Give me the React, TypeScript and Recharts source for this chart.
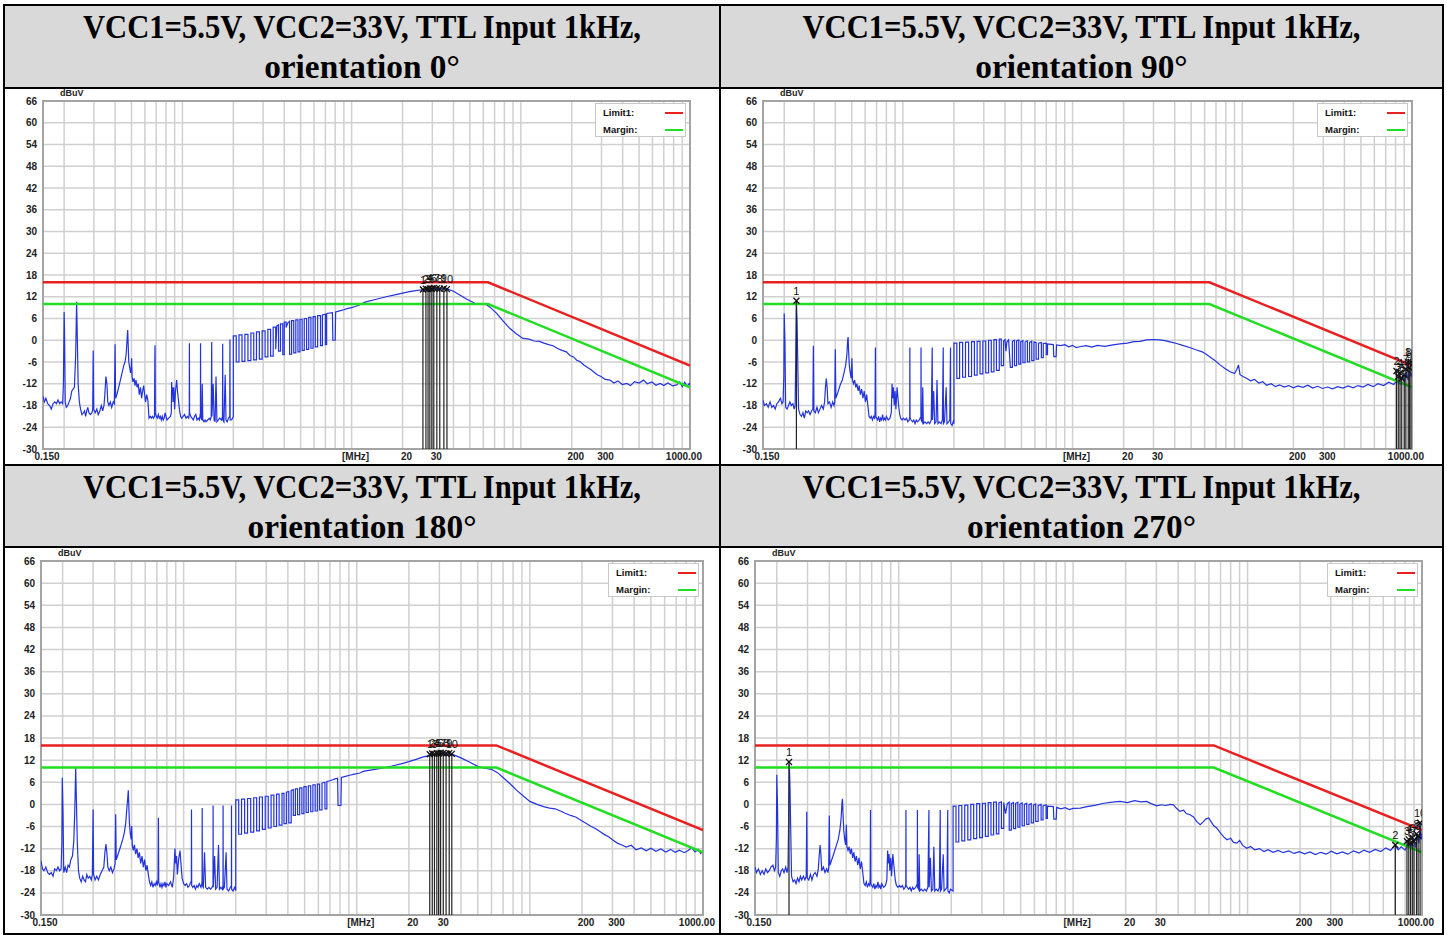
import React from "react";
import {
  CartesianGrid,
  ComposedChart,
  Line,
  ReferenceArea,
  ReferenceLine,
  Scatter,
  XAxis,
  YAxis,
} from "recharts";

type Pt = [number, number];

const Y_TICKS = [-30, -24, -18, -12, -6, 0, 6, 12, 18, 24, 30, 36, 42, 48, 54, 60, 66];
const X_TICKS = [0.15, 10, 20, 30, 200, 300, 1000];
const GRID_FREQS = [
  0.2, 0.3, 0.4, 0.5, 0.6, 0.7, 0.8, 0.9, 1, 2, 3, 4, 5, 6, 7, 8, 9, 10, 20, 30, 40, 50, 60, 70, 80, 90,
  100, 200, 300, 400, 500, 600, 700, 800, 900,
];

const LIMIT_FREQS = [0.15, 64, 1000];
const LIMIT1 = [16, 16, -7];
const MARGIN = [10, 10, -13];

const TITLES = [
  "orientation 0°",
  "orientation 90°",
  "orientation 180°",
  "orientation 270°",
];
const TITLE_LINE = "VCC1=5.5V, VCC2=33V, TTL Input 1kHz,";

// measured trace, orientation 0°
const TRACE_0: Pt[] = [
  [0.15, -15.5], [0.153, -17], [0.156, -16], [0.16, -17.5], [0.164, -18], [0.168, -19], [0.172, -17.5],
  [0.176, -17], [0.18, -17.5], [0.184, -16.5], [0.188, -17.5], [0.192, -17],
  [0.196, -17.5], [0.198, -12], [0.2, 7.8], [0.201, 3], [0.203, -17], [0.206, -18.5], [0.21, -18],
  [0.214, -17], [0.218, -16], [0.222, -14], [0.226, -13.5],
  [0.23, -13], [0.234, -4], [0.237, 10.6], [0.239, 2], [0.242, -12], [0.246, -17], [0.25, -19],
  [0.255, -20.5], [0.26, -20], [0.264, -19.5], [0.268, -21], [0.272, -19.5], [0.276, -18.5], [0.28, -20],
  [0.286, -20.5], [0.292, -20],
  [0.295, -19], [0.297, -2.8], [0.299, -19], [0.305, -20], [0.312, -19], [0.318, -20.5], [0.325, -19.5],
  [0.332, -18], [0.338, -19.5], [0.344, -18],
  [0.348, -15], [0.353, -10], [0.358, -12], [0.362, -17], [0.368, -18], [0.375, -17], [0.382, -18.5], [0.39, -17],
  [0.396, -17.5], [0.4, -1.1], [0.403, -16], [0.41, -15], [0.42, -13], [0.43, -11], [0.44, -9], [0.45, -7],
  [0.458, -6], [0.465, -4], [0.472, 1], [0.475, 2.8], [0.478, -1], [0.482, -6], [0.488, -7.5], [0.494, -9],
  [0.498, -8], [0.501, -5], [0.504, -10], [0.51, -11.5], [0.518, -10.5], [0.525, -12.5], [0.532, -11],
  [0.54, -13], [0.548, -12], [0.556, -15], [0.565, -13], [0.574, -16], [0.582, -14], [0.59, -12.5],
  [0.598, -15], [0.606, -17], [0.615, -15], [0.625, -16.5], [0.635, -21.5], [0.645, -21], [0.655, -21.5],
  [0.665, -21], [0.675, -21.5], [0.684, -21],
  [0.687, -5], [0.689, -1.4], [0.692, -20], [0.7, -21], [0.71, -21.5], [0.72, -20.5], [0.73, -21.5],
  [0.74, -21], [0.75, -22], [0.76, -21], [0.77, -22], [0.78, -21.5], [0.79, -20], [0.8, -21], [0.81, -22],
  [0.83, -21.5], [0.85, -21],
  [0.86, -20], [0.864, -11.5], [0.868, -15], [0.875, -13], [0.88, -17], [0.89, -13], [0.9, -19], [0.91, -14],
  [0.925, -11], [0.935, -14], [0.945, -16], [0.96, -19], [0.975, -21], [0.99, -21.5], [1.01, -21],
  [1.03, -20.5], [1.05, -21.5], [1.07, -21], [1.09, -21.5],
  [1.098, -20], [1.1, -0.8], [1.103, -20], [1.12, -21], [1.14, -21.5], [1.16, -22], [1.18, -21],
  [1.2, -20.5], [1.22, -22], [1.24, -21.5], [1.26, -22],
  [1.278, -20], [1.28, -0.8], [1.283, -21], [1.3, -22], [1.31, -12], [1.32, -22], [1.34, -22.5],
  [1.36, -22], [1.38, -22.5], [1.41, -22], [1.44, -21.5], [1.46, -22], [1.48, -21],
  [1.49, -0.5], [1.495, -21], [1.52, -12], [1.54, -22], [1.56, -22.5], [1.58, -10], [1.6, -22.5],
  [1.63, -22], [1.66, -21.5], [1.7, -22],
  [1.725, -21], [1.73, -1], [1.735, -22], [1.76, -22.5], [1.79, -9.5], [1.81, -22], [1.84, -22.5], [1.87, -21.5],
  [1.905, -21], [1.91, 0.2], [1.915, -22], [1.95, -22], [1.98, -21.5], [2.0, -21],
  [2.0, 1.2], [2.08, 1.2], [2.08, -6], [2.16, -6], [2.16, 1.5], [2.25, 1.5], [2.25, -5.8], [2.34, -5.8],
  [2.34, 1.6], [2.44, 1.6], [2.44, -5.6], [2.54, -5.6], [2.54, 2], [2.64, 2], [2.64, -5.4], [2.74, -5.4],
  [2.74, 2.3], [2.85, 2.3], [2.85, -5.2], [2.96, -5.2], [2.96, 2.6], [3.08, 2.6], [3.08, -4.6], [3.2, -4.6],
  [3.2, 3], [3.32, 3], [3.32, -4.4], [3.44, -4.4], [3.44, 3.6], [3.56, 3.6], [3.56, -2.5], [3.62, 4],
  [3.7, 4.2], [3.7, -3], [3.8, -3], [3.8, 4.5], [3.92, 4.5], [3.92, -4], [4.0, -4], [4.0, 5], [4.1, 5],
  [4.1, 3.5], [4.2, 4.8], [4.3, 5.2], [4.3, -3.8], [4.42, -3.8], [4.42, 5.4], [4.55, 5.4], [4.55, -3.5],
  [4.68, -3.5], [4.68, 5.6], [4.82, 5.6], [4.82, -3.2], [4.95, -3.2], [4.95, 5.8], [5.1, 5.8], [5.1, -2.8],
  [5.25, -2.8], [5.25, 6], [5.42, 6], [5.42, -2.5], [5.58, -2.5], [5.58, 6.3], [5.75, 6.3], [5.75, -2.2],
  [5.92, -2.2], [5.92, 6.5], [6.1, 6.5], [6.1, -1.8], [6.3, -1.8], [6.3, 6.8], [6.55, 6.8], [6.55, -1.5],
  [6.72, -1.5], [6.72, 7], [7.0, 7.2], [7.0, -1.2], [7.12, -1.2], [7.12, 7.4], [7.7, 7.6], [7.75, 0],
  [8.0, 0], [8.05, 7.8], [8.5, 8.1], [9.0, 8.4], [9.5, 8.8], [10, 9.0], [10.5, 9.3], [11.2, 9.8],
  [12, 10.5], [14, 11.3], [16, 12], [18, 12.5], [20, 13], [22, 13.4], [24, 13.7], [26.6, 14], [29, 14.2],
  [31, 14.4], [33, 14.3], [36, 14.3], [40, 13.5], [43.6, 12.5], [48, 11.3], [53.5, 10.2], [58, 10],
  [62.8, 9.8], [67, 8.8], [72, 7.4], [78, 5.5], [86, 3.3], [94, 1.8], [103, 0.5], [112, 0.3], [120, -0.2],
  [129, -0.3], [137, -0.8], [146, -1.2], [155, -1.5], [165, -2.3], [175, -2.8], [186, -3.2], [195, -4.2],
  [205, -4.6], [214, -5.5], [224, -5.9], [236, -6.8], [248, -7.5], [258, -8], [269, -8.7], [283, -9.5],
  [298, -10], [315, -10.8], [337, -11], [355, -11.8], [375, -11.2], [398, -12.2], [423, -11.9],
  [445, -12.5], [470, -11.4], [500, -11.8], [531, -11], [560, -12], [595, -11.5], [630, -12.4],
  [666, -11.9], [700, -12.5], [740, -11.8], [790, -12.6], [835, -12.3], [870, -11.5], [900, -12.8],
  [930, -11.6], [960, -12.7], [990, -11.9], [1000, -12.4],
];

// measured trace, orientation 90°
const TRACE_90: Pt[] = [
  [0.15, -16.5], [0.153, -18], [0.157, -17.5], [0.161, -18.5], [0.165, -17], [0.169, -18.5], [0.173, -18],
  [0.177, -19], [0.181, -17.5], [0.185, -17], [0.19, -16], [0.194, -17.5],
  [0.197, -17], [0.199, -10], [0.2, 7.4], [0.202, 0], [0.204, -18.5], [0.208, -19], [0.212, -18],
  [0.216, -17], [0.22, -18], [0.225, -17.5], [0.229, -19],
  [0.232, -18], [0.234, -4], [0.236, 10.2], [0.238, 6], [0.24, -4], [0.243, -19], [0.248, -20.5],
  [0.253, -21], [0.258, -20], [0.263, -21.5], [0.268, -19.5], [0.273, -20], [0.278, -19.5], [0.284, -20.5],
  [0.29, -19.5],
  [0.295, -19], [0.297, -1.5], [0.299, -19.5], [0.305, -20], [0.312, -18.5], [0.318, -20], [0.325, -19],
  [0.332, -18], [0.34, -19], [0.346, -17],
  [0.35, -13], [0.354, -10.6], [0.358, -13], [0.362, -17.5], [0.37, -17], [0.378, -18.5], [0.386, -17], [0.393, -18],
  [0.397, -17], [0.4, -2.5], [0.403, -16], [0.41, -15], [0.42, -13.5], [0.43, -12], [0.44, -11], [0.45, -9],
  [0.46, -7], [0.468, -4], [0.473, 0], [0.476, 0.9], [0.479, -3], [0.484, -7], [0.49, -9], [0.496, -10.5],
  [0.501, -5], [0.505, -11], [0.512, -12], [0.52, -11], [0.528, -13], [0.536, -12], [0.545, -14],
  [0.553, -12.5], [0.562, -15], [0.572, -13.5], [0.582, -16], [0.592, -14], [0.602, -17], [0.612, -15],
  [0.622, -18], [0.632, -21], [0.642, -21.5], [0.652, -21], [0.662, -22], [0.672, -21], [0.682, -21.5],
  [0.686, -20], [0.689, -2], [0.692, -21], [0.7, -21.5], [0.71, -22], [0.72, -21], [0.73, -22.5],
  [0.74, -21.5], [0.75, -22], [0.76, -20.5], [0.77, -22], [0.78, -21.5], [0.79, -22], [0.8, -21],
  [0.82, -22], [0.84, -21.5], [0.855, -20],
  [0.864, -12], [0.87, -16], [0.88, -13], [0.89, -18], [0.9, -14], [0.91, -19], [0.925, -13], [0.94, -17],
  [0.955, -20], [0.97, -21.5], [0.99, -22], [1.01, -21.5], [1.03, -22], [1.05, -21.5], [1.07, -22.5], [1.09, -22],
  [1.098, -21], [1.1, -2], [1.103, -21.5], [1.12, -22], [1.14, -22.5], [1.16, -22], [1.18, -23], [1.2, -22],
  [1.22, -22.5], [1.25, -22],
  [1.278, -21], [1.28, -2], [1.283, -22], [1.3, -22.5], [1.31, -13], [1.32, -23], [1.35, -22.5], [1.38, -23],
  [1.41, -22.5], [1.44, -23], [1.47, -22],
  [1.49, -2], [1.495, -22], [1.52, -14], [1.54, -23], [1.57, -22.5], [1.59, -11], [1.61, -23], [1.64, -22.5],
  [1.68, -23], [1.71, -22],
  [1.73, -2], [1.735, -23], [1.76, -22.5], [1.8, -13], [1.82, -23], [1.86, -22.5], [1.89, -22],
  [1.91, -2], [1.915, -23], [1.95, -23.5], [1.98, -22.5], [2.0, -23],
  [2.0, -0.8], [2.08, -0.8], [2.08, -10.5], [2.16, -10.5], [2.16, -0.6], [2.25, -0.6], [2.25, -10.2],
  [2.34, -10.2], [2.34, -0.5], [2.44, -0.5], [2.44, -10], [2.54, -10], [2.54, -0.4], [2.64, -0.4],
  [2.64, -9.6], [2.74, -9.6], [2.74, -0.3], [2.85, -0.3], [2.85, -9.3], [2.96, -9.3], [2.96, -0.2],
  [3.08, -0.2], [3.08, -9], [3.2, -9], [3.2, 0], [3.32, 0], [3.32, -8.7], [3.44, -8.7], [3.44, 0.2],
  [3.56, 0.2], [3.56, -8.3], [3.7, -8.3], [3.7, 0.3], [3.8, 0.3], [3.8, -7], [3.92, -7], [3.92, -0.2],
  [4.0, 0.2], [4.05, -3], [4.1, -0.5], [4.2, 0.1], [4.3, -7.5], [4.42, -7.5], [4.42, -0.3], [4.55, 0],
  [4.55, -7], [4.68, -7], [4.68, -0.2], [4.82, 0.1], [4.82, -6.6], [4.95, -6.6], [4.95, -0.4], [5.1, -0.1],
  [5.1, -6.2], [5.25, -6.2], [5.25, -0.5], [5.42, -0.2], [5.42, -6], [5.58, -6], [5.58, -0.6], [5.75, -0.3],
  [5.75, -5.6], [5.92, -5.6], [5.92, -0.5], [6.1, -0.6], [6.1, -5.2], [6.3, -5.2], [6.3, -0.8], [6.55, -0.6],
  [6.55, -4.8], [6.72, -4.8], [6.72, -0.9], [7.0, -0.8], [7.0, -4], [7.12, -4], [7.12, -1], [7.7, -1.2],
  [7.75, -4.5], [8.0, -4.5], [8.05, -1.3], [8.5, -1.5], [9.0, -1.2], [9.5, -1.8], [10, -1.4], [10.5, -2],
  [11, -1.8], [12, -1.5], [13, -1.9], [14, -1.4], [15.5, -1.7], [17.3, -1.3], [19, -1.0], [21, -0.8],
  [23, -0.4], [25, -0.3], [27.3, 0.1], [30, 0.2], [32.7, 0.1], [35, -0.1], [38, -0.5], [41, -0.9],
  [45, -1.5], [49, -2], [53.8, -2.7], [58, -3.2], [61, -3.8], [64.5, -4.6], [69, -5.6], [74, -6.8],
  [79, -7.8], [84.8, -8.7], [90, -9.2], [93, -8], [95, -6.8], [97, -9.5], [101, -10], [106, -10.5],
  [112, -11.2], [118, -10.8], [125, -11.8], [132, -11.4], [139, -12.4], [148, -12], [157, -12.8],
  [166, -12.3], [176, -12.9], [188, -12.5], [200, -13.1], [213, -12.6], [228, -13], [243, -12.4],
  [260, -13.2], [278, -12.7], [297, -13.3], [318, -12.9], [340, -13.4], [365, -12.8], [392, -13.2],
  [420, -12.6], [450, -13.1], [480, -12.5], [515, -12.9], [550, -12.2], [590, -12.8], [630, -12],
  [680, -12.5], [730, -11.6], [780, -12.2], [820, -11], [850, -12], [880, -10], [900, -11.5], [930, -9],
  [950, -11], [970, -7.5], [985, -10], [1000, -9],
];

// measured trace, orientation 180°
const TRACE_180: Pt[] = [
  [0.15, -15.3], [0.153, -17.5], [0.156, -18], [0.16, -17], [0.164, -18.5], [0.168, -19], [0.172, -18.5],
  [0.176, -19.5], [0.18, -17.5], [0.184, -18], [0.188, -17], [0.192, -18],
  [0.196, -17.5], [0.198, -10], [0.199, 7.2], [0.201, -2], [0.203, -18.5], [0.207, -17], [0.211, -18.5],
  [0.215, -16.5], [0.219, -17], [0.223, -15], [0.228, -14],
  [0.232, -10], [0.235, -2], [0.238, 9.9], [0.24, 2], [0.243, -10], [0.247, -18], [0.251, -20], [0.256, -21],
  [0.261, -19.5], [0.266, -20.5], [0.271, -21], [0.276, -19], [0.281, -20], [0.287, -19.5], [0.293, -20.5],
  [0.297, -19], [0.3, -1.4], [0.302, -19], [0.308, -20.5], [0.315, -19.5], [0.322, -20.5], [0.33, -19],
  [0.338, -18], [0.346, -17],
  [0.351, -13], [0.356, -10.8], [0.36, -13], [0.365, -17], [0.372, -18], [0.38, -17], [0.388, -18.5], [0.396, -17.5],
  [0.402, -16], [0.405, -2.7], [0.408, -15], [0.415, -14], [0.425, -12.5], [0.435, -11], [0.445, -9.5],
  [0.455, -7.5], [0.463, -5], [0.47, -1], [0.476, 2], [0.479, 3.8], [0.482, 0], [0.486, -5], [0.492, -8],
  [0.498, -9.5], [0.501, -5.9], [0.505, -11], [0.512, -12.5], [0.52, -11], [0.528, -13.5], [0.537, -12],
  [0.546, -14.5], [0.555, -13], [0.565, -16], [0.575, -14], [0.585, -17], [0.595, -15], [0.605, -18],
  [0.615, -16.5], [0.625, -19], [0.635, -21], [0.645, -22], [0.655, -21], [0.665, -22.5], [0.675, -21.5],
  [0.685, -22], [0.695, -21], [0.705, -22],
  [0.712, -20], [0.715, -3.6], [0.718, -21], [0.73, -22.5], [0.74, -21.5], [0.75, -22.5], [0.76, -21.5],
  [0.77, -22], [0.78, -21], [0.79, -22.5], [0.8, -21.5], [0.82, -22], [0.84, -21], [0.86, -22.5], [0.875, -20],
  [0.891, -12], [0.9, -16], [0.91, -14], [0.92, -19], [0.935, -15], [0.953, -12.5], [0.965, -16], [0.98, -20],
  [1.0, -21.5], [1.02, -22], [1.04, -21.5], [1.06, -22.5], [1.08, -22], [1.1, -21],
  [1.108, -21], [1.11, -1.4], [1.113, -22], [1.13, -22.5], [1.15, -22], [1.17, -23], [1.19, -22],
  [1.21, -22.5], [1.23, -21.5], [1.26, -22.5],
  [1.278, -21], [1.28, -1], [1.283, -22], [1.3, -22.5], [1.32, -13], [1.34, -22.5], [1.37, -23],
  [1.4, -22.5], [1.43, -23], [1.46, -22.5],
  [1.478, -22], [1.48, -0.3], [1.483, -22.5], [1.51, -14], [1.53, -23], [1.56, -22.5], [1.59, -11],
  [1.61, -23], [1.64, -22.5], [1.67, -23],
  [1.688, -22], [1.69, -0.3], [1.693, -23], [1.72, -22.5], [1.76, -13], [1.78, -23], [1.82, -23.5], [1.86, -22.5],
  [1.888, -22], [1.89, -0.3], [1.893, -23], [1.93, -23.5], [1.97, -22.5], [2.0, -23.4],
  [2.0, 1.2], [2.08, 1.2], [2.08, -8.1], [2.16, -8.1], [2.16, 1.4], [2.25, 1.4], [2.25, -7.8], [2.34, -7.8],
  [2.34, 1.6], [2.44, 1.6], [2.44, -7.5], [2.54, -7.5], [2.54, 1.8], [2.64, 1.8], [2.64, -7.2], [2.74, -7.2],
  [2.74, 2], [2.85, 2], [2.85, -6.8], [2.96, -6.8], [2.96, 2.2], [3.08, 2.2], [3.08, -6.4], [3.2, -6.4],
  [3.2, 2.5], [3.32, 2.5], [3.32, -6], [3.44, -6], [3.44, 2.8], [3.56, 2.8], [3.56, -5.6], [3.7, -5.6],
  [3.7, 3], [3.8, 3], [3.8, -5.2], [3.92, -5.2], [3.92, 3.3], [4.05, 3.5], [4.05, -5], [4.18, -5],
  [4.18, 3.8], [4.3, 4], [4.3, -3], [4.42, -3], [4.42, 4.2], [4.55, 4.2], [4.55, -2.8], [4.68, -2.8],
  [4.68, 4.5], [4.82, 4.5], [4.82, -2.5], [4.95, -2.5], [4.95, 4.8], [5.1, 4.8], [5.1, -2.2], [5.25, -2.2],
  [5.25, 5], [5.42, 5], [5.42, -2], [5.58, -2], [5.58, 5.3], [5.75, 5.3], [5.75, -1.8], [5.92, -1.8],
  [5.92, 5.5], [6.1, 5.5], [6.1, -1.5], [6.3, -1.5], [6.3, 5.8], [6.55, 6], [6.55, -1.2], [6.72, -1.2],
  [6.72, 6.2], [7.0, 6.4], [7.2, 6.6], [7.5, 6.9], [7.75, 7.1], [7.8, -0.3], [8.1, -0.3], [8.15, 7.3],
  [8.6, 7.6], [9.1, 7.9], [9.7, 8.2], [10.4, 8.5], [11, 9], [12, 9.3], [14, 9.8], [16, 10.4], [18, 11],
  [20, 11.6], [22, 12.2], [24, 12.8], [26.5, 13.3], [29, 13.7], [31, 13.9], [33, 13.8], [36, 13.5],
  [40, 12.6], [45, 11.4], [50, 10.3], [55, 9.8], [60, 9.5], [65, 8.6], [70, 7.3], [76, 5.8], [84, 3.8],
  [92, 2.2], [100, 0.8], [110, 0], [120, -0.6], [130, -1], [140, -1.2], [150, -1.8], [160, -2.4],
  [172, -3], [185, -3.5], [198, -4.4], [212, -5.2], [226, -6], [240, -6.6], [255, -7.4], [270, -8.2],
  [285, -8.8], [300, -9.6], [320, -10.5], [340, -11], [360, -11.6], [385, -11.1], [410, -12.3],
  [440, -11.8], [470, -12.6], [500, -11.9], [535, -12.7], [570, -12.1], [610, -12.9], [650, -12.2],
  [690, -13], [730, -12.4], [780, -13.1], [820, -12.5], [860, -11.8], [900, -12.9], [940, -12.2],
  [970, -13.3], [1000, -12.6],
];

// measured trace, orientation 270°
const TRACE_270: Pt[] = [
  [0.15, -17], [0.153, -18.5], [0.157, -17.5], [0.161, -19], [0.165, -18], [0.169, -19], [0.173, -17.5],
  [0.177, -18.5], [0.181, -18], [0.185, -17], [0.19, -16.5], [0.194, -18],
  [0.197, -17], [0.199, -9], [0.2, 8], [0.202, -1], [0.204, -18.5], [0.208, -19.5], [0.212, -18],
  [0.216, -17.5], [0.22, -18.5], [0.225, -17], [0.229, -18.5],
  [0.232, -17], [0.234, -3], [0.236, 10.8], [0.238, 5], [0.24, -5], [0.243, -19.5], [0.248, -21],
  [0.253, -20.5], [0.258, -21.5], [0.263, -20], [0.268, -21], [0.273, -19.5], [0.278, -20.5], [0.284, -19.5],
  [0.29, -20.5],
  [0.295, -19.5], [0.297, -2], [0.299, -20], [0.305, -20.5], [0.312, -19], [0.318, -20.5], [0.325, -19],
  [0.332, -18.5], [0.34, -19.5], [0.346, -17.5],
  [0.35, -14], [0.354, -11], [0.358, -13.5], [0.362, -18], [0.37, -17], [0.378, -18.5], [0.386, -17.5], [0.393, -18.5],
  [0.397, -17], [0.4, -3], [0.403, -16.5], [0.41, -15.5], [0.42, -14], [0.43, -12.5], [0.44, -11], [0.45, -9.5],
  [0.46, -7], [0.468, -3.5], [0.473, 0.5], [0.476, 1.5], [0.479, -2], [0.484, -7], [0.49, -9.5], [0.496, -11],
  [0.501, -5.5], [0.505, -11.5], [0.512, -12.5], [0.52, -11.5], [0.528, -13.5], [0.536, -12], [0.545, -14.5],
  [0.553, -13], [0.562, -15.5], [0.572, -14], [0.582, -16.5], [0.592, -14.5], [0.602, -17.5], [0.612, -15.5],
  [0.622, -18.5], [0.632, -21.5], [0.642, -22], [0.652, -21], [0.662, -22.5], [0.672, -21.5], [0.682, -22],
  [0.686, -20], [0.689, -1.5], [0.692, -21.5], [0.7, -22], [0.71, -22.5], [0.72, -21.5], [0.73, -23],
  [0.74, -22], [0.75, -22.5], [0.76, -21], [0.77, -22.5], [0.78, -22], [0.79, -23], [0.8, -21.5],
  [0.82, -22.5], [0.84, -22], [0.855, -20.5],
  [0.864, -12.5], [0.87, -16], [0.88, -13.5], [0.89, -18], [0.9, -14.5], [0.91, -19.5], [0.925, -13.5],
  [0.94, -17], [0.955, -20.5], [0.97, -22], [0.99, -22.5], [1.01, -22], [1.03, -22.5], [1.05, -22],
  [1.07, -23], [1.09, -22.5],
  [1.098, -21.5], [1.1, -1.5], [1.103, -22], [1.12, -22.5], [1.14, -23], [1.16, -22.5], [1.18, -23.5],
  [1.2, -22.5], [1.22, -23], [1.25, -22.5],
  [1.278, -21.5], [1.28, -1.5], [1.283, -22.5], [1.3, -23], [1.31, -13.5], [1.32, -23.5], [1.35, -23],
  [1.38, -23.5], [1.41, -23], [1.44, -23.5], [1.47, -22.5],
  [1.49, -1.5], [1.495, -22.5], [1.52, -14.5], [1.54, -23.5], [1.57, -23], [1.59, -11.5], [1.61, -23.5],
  [1.64, -23], [1.68, -23.5], [1.71, -22.5],
  [1.73, -1.5], [1.735, -23.5], [1.76, -23], [1.8, -13.5], [1.82, -23.5], [1.86, -23], [1.89, -22.5],
  [1.91, -1.5], [1.915, -23.5], [1.95, -24], [1.98, -23], [2.05, -23.5],
  [2.05, -0.5], [2.13, -0.5], [2.13, -10.2], [2.21, -10.2], [2.21, -0.3], [2.3, -0.3], [2.3, -9.9],
  [2.39, -9.9], [2.39, -0.2], [2.49, -0.2], [2.49, -9.6], [2.59, -9.6], [2.59, 0], [2.69, 0], [2.69, -9.3],
  [2.8, -9.3], [2.8, 0.2], [2.91, 0.2], [2.91, -9], [3.02, -9], [3.02, 0.3], [3.14, 0.3], [3.14, -8.7],
  [3.26, -8.7], [3.26, 0.5], [3.38, 0.5], [3.38, -8.3], [3.5, -8.3], [3.5, 0.6], [3.63, 0.6], [3.63, -8],
  [3.75, -8], [3.75, 0.4], [3.88, 0.7], [3.88, -6.5], [4.0, -6.5], [4.0, 0.5], [4.1, -2.5], [4.2, 0.3],
  [4.3, 0.6], [4.3, -7], [4.42, -7], [4.42, 0.2], [4.55, 0.5], [4.55, -6.6], [4.68, -6.6], [4.68, 0.3],
  [4.82, 0.6], [4.82, -6.2], [4.95, -6.2], [4.95, 0.1], [5.1, 0.4], [5.1, -5.8], [5.25, -5.8], [5.25, 0],
  [5.42, 0.3], [5.42, -5.4], [5.58, -5.4], [5.58, -0.1], [5.75, 0.2], [5.75, -5], [5.92, -5], [5.92, -0.2],
  [6.1, 0.1], [6.1, -4.6], [6.3, -4.6], [6.3, -0.3], [6.55, 0], [6.55, -4.2], [6.72, -4.2], [6.72, -0.4],
  [7.0, -0.1], [7.0, -3.8], [7.12, -3.8], [7.12, -0.5], [7.7, -0.6], [7.75, -4], [8.0, -4], [8.05, -0.8],
  [8.5, -1.2], [9.0, -0.9], [9.5, -1.4], [10, -1.1], [11, -1], [12, -0.6], [13.5, -0.2], [15, 0.3],
  [16.8, 0.6], [18.6, 0.8], [20.5, 0.5], [22.5, 1], [24.5, 0.7], [26.4, 0.8], [28, 0.2], [30.2, -0.4],
  [32, -0.1], [34, -0.3], [36, 0], [37.6, -0.1], [39, -1], [41, -1.9], [43, -1.6], [44.5, -2.5],
  [46.8, -2.8], [49, -3.4], [51, -4.6], [53.5, -5.5], [55.5, -4.8], [57.5, -4], [59.8, -3.7], [62, -4.8],
  [64, -5.8], [66.6, -6.4], [70, -7.8], [73, -8.8], [76.2, -9.6], [80, -9.2], [83, -10.3], [86.9, -10.5],
  [90, -9.8], [94, -11.2], [99, -11.9], [104, -11.4], [110, -12.3], [117, -12], [124, -12.8], [131, -12.3],
  [140, -13], [150, -12.5], [160, -13.1], [172, -12.6], [185, -13.3], [198, -12.8], [212, -13.4],
  [228, -12.9], [245, -13.6], [262, -13], [282, -13.5], [302, -12.7], [325, -13.4], [350, -12.9],
  [375, -13.5], [405, -12.6], [435, -13.2], [465, -12.4], [500, -13], [540, -12.2], [580, -12.8],
  [620, -11.8], [660, -12.5], [700, -11], [730, -12.3], [760, -11.5], [800, -12.4], [830, -10.5],
  [860, -11.8], [890, -9.8], [920, -11.5], [945, -8.5], [960, -10.5], [975, -6], [990, -9.5], [1000, -8],
];

// marker table: frequency (MHz), level (dBuV); numbered 1..n
const MARKERS_0: Pt[] = [
  [26.4, 14], [27.5, 14.2], [28.3, 14.1], [29, 14.3], [29.8, 14.2], [30.6, 14.4], [31.9, 14.3], [33.2, 14.2],
  [35.1, 14.3], [36.6, 14.1],
];
const MARKERS_90: Pt[] = [
  [0.236, 10.9], [810, -8.5], [830, -10], [850, -9], [870, -10.5], [900, -9.5], [920, -8], [950, -6],
  [965, -7.5], [985, -6],
];
const MARKERS_180: Pt[] = [
  [26.4, 13.6], [27.3, 13.8], [28.1, 13.7], [29, 13.9], [29.7, 13.8], [30.5, 14], [31.6, 13.9], [32.8, 13.8],
  [34.2, 13.9], [35.4, 13.7],
];
const MARKERS_270: Pt[] = [
  [0.235, 11.5], [703, -11], [820, -10], [840, -9.5], [860, -10.5], [880, -9], [900, -10], [930, -8],
  [950, -8.5], [975, -5],
];

const toRows = (pts: Pt[]) => pts.map(([f, v]) => ({ f, v }));
const limitRows = (vals: number[]) => LIMIT_FREQS.map((f, i) => ({ f, v: vals[i] }));

const SANS = "'Liberation Sans', Arial, sans-serif";
const GRID = "#d0d0d0";

const xLabel = (v: number) =>
  v === 0.15 ? "0.150" : v === 10 ? "[MHz]" : v === 1000 ? "1000.00" : String(v);

function XTick(props: any) {
  const { x, y, payload } = props;
  const end = payload.value === 1000;
  return (
    <text
      x={x + (end ? 12 : 4)}
      y={y}
      dy="0.71em"
      textAnchor={end ? "end" : "middle"}
      fontSize={10}
      fontWeight="bold"
      fontFamily={SANS}
      fill="#222"
    >
      {xLabel(payload.value)}
    </text>
  );
}

function MarkerShape(props: any) {
  const { cx, cy, payload } = props;
  if (cx == null || cy == null) return <g />;
  return (
    <g>
      <path
        d={`M${cx - 3},${cy - 3}L${cx + 3},${cy + 3}M${cx - 3},${cy + 3}L${cx + 3},${cy - 3}`}
        stroke="#111"
        strokeWidth={1.3}
      />
      <text x={cx} y={cy - 6} textAnchor="middle" fontSize={11} fontFamily={SANS} fill="#111">
        {payload.label}
      </text>
    </g>
  );
}

interface PanelProps {
  left: number;
  top: number;
  width: number;
  height: number;
  yW: number;
  mTop: number;
  mRight: number;
  xH: number;
  mBottom: number;
  trace: Pt[];
  markers: Pt[];
}

function EmcPanel(p: PanelProps) {
  const plotRight = p.width - p.mRight;
  const markerRows = p.markers.map(([f, v], i) => ({ f, v, label: String(i + 1) }));
  return (
    <div style={{ position: "absolute", left: p.left, top: p.top, width: p.width, height: p.height, background: "#fff" }}>
      <ComposedChart
        width={p.width}
        height={p.height}
        margin={{ top: p.mTop, right: p.mRight, bottom: p.mBottom, left: 0 }}
      >
        <CartesianGrid stroke={GRID} strokeWidth={1.5} verticalValues={GRID_FREQS} />
        <XAxis
          type="number"
          dataKey="f"
          scale="log"
          domain={[0.15, 1000]}
          ticks={X_TICKS}
          interval={0}
          height={p.xH}
          tickSize={0}
          tickMargin={4}
          axisLine={false}
          tick={<XTick />}
          allowDataOverflow
        />
        <YAxis
          type="number"
          domain={[-30, 66]}
          ticks={Y_TICKS}
          interval={0}
          width={p.yW}
          tickSize={0}
          tickMargin={6}
          axisLine={false}
          tick={{ fontSize: 10, fontWeight: "bold", fontFamily: SANS, fill: "#222" }}
          allowDataOverflow
        />
        <ReferenceArea x1={0.15} x2={1000} y1={-30} y2={66} fill="none" stroke="#a4a4a4" strokeWidth={2} />
        <Line
          data={toRows(p.trace)}
          dataKey="v"
          stroke="#2233dd"
          strokeWidth={1.2}
          dot={false}
          isAnimationActive={false}
        />
        <Line
          data={limitRows(MARGIN)}
          dataKey="v"
          stroke="#22dd22"
          strokeWidth={2.5}
          dot={false}
          isAnimationActive={false}
        />
        <Line
          data={limitRows(LIMIT1)}
          dataKey="v"
          stroke="#e82020"
          strokeWidth={2.5}
          dot={false}
          isAnimationActive={false}
        />
        {p.markers.map(([f, v], i) => (
          <ReferenceLine
            key={i}
            segment={[
              { x: f, y: -30 },
              { x: f, y: v },
            ]}
            stroke="#222"
            strokeWidth={1.2}
          />
        ))}
        <Scatter data={markerRows} dataKey="v" shape={<MarkerShape />} isAnimationActive={false} />
      </ComposedChart>
      <div
        style={{
          position: "absolute",
          left: p.yW + 17,
          top: p.mTop - 13,
          fontFamily: SANS,
          fontSize: 9,
          fontWeight: "bold",
          color: "#222",
        }}
      >
        dBuV
      </div>
      <div
        style={{
          position: "absolute",
          left: plotRight - 95,
          top: p.mTop + 2,
          width: 91,
          height: 34,
          boxSizing: "border-box",
          border: "1px solid #c8c8c8",
          background: "#fff",
          fontFamily: SANS,
          fontSize: 9.5,
          fontWeight: "bold",
          color: "#111",
        }}
      >
        {[
          ["Limit1:", "#e82020"],
          ["Margin:", "#22dd22"],
        ].map(([t, c], i) => (
          <div key={t} style={{ position: "absolute", left: 7, top: 2 + i * 17, height: 13, lineHeight: "13px" }}>
            {t}
            <div style={{ position: "absolute", left: 62, top: 6, width: 18, height: 2, background: c }} />
          </div>
        ))}
      </div>
    </div>
  );
}

const headerText = (sub: string) => (
  <div style={{ lineHeight: "40px", fontSize: 34, fontWeight: "bold", textAlign: "center", whiteSpace: "nowrap" }}>
    <div style={{ transform: "scaleX(0.9)" }}>{TITLE_LINE}</div>
    <div style={{ transform: "scaleX(0.98)" }}>{sub}</div>
  </div>
);

export default function App() {
  const cellHeader = (left: number, top: number, width: number, height: number, sub: string) => (
    <div
      style={{
        position: "absolute",
        left,
        top,
        width,
        height,
        background: "#d9d9d9",
        fontFamily: "'Liberation Serif', 'Times New Roman', serif",
        color: "#000",
        paddingTop: 1,
        boxSizing: "border-box",
      }}
    >
      {headerText(sub)}
    </div>
  );
  const bar = (left: number, top: number, width: number, height: number) => (
    <div style={{ position: "absolute", left, top, width, height, background: "#000" }} />
  );
  return (
    <div style={{ position: "absolute", left: 0, top: 0, width: 1447, height: 935, background: "#fff", overflow: "hidden" }}>
      {cellHeader(5, 6, 714, 81, TITLES[0])}
      {cellHeader(721, 6, 721, 81, TITLES[1])}
      {cellHeader(5, 466, 714, 80, TITLES[2])}
      {cellHeader(721, 466, 721, 80, TITLES[3])}

      <EmcPanel left={5} top={89} width={714} height={375} yW={38} mTop={12} mRight={29} xH={15} mBottom={0} trace={TRACE_0} markers={MARKERS_0} />
      <EmcPanel left={721} top={89} width={721} height={375} yW={42} mTop={12} mRight={30} xH={15} mBottom={0} trace={TRACE_90} markers={MARKERS_90} />
      <EmcPanel left={5} top={548} width={714} height={385} yW={36} mTop={13} mRight={16} xH={16} mBottom={2} trace={TRACE_180} markers={MARKERS_180} />
      <EmcPanel left={721} top={548} width={721} height={385} yW={34} mTop={13} mRight={20} xH={16} mBottom={2} trace={TRACE_270} markers={MARKERS_270} />

      {bar(3, 4, 1441, 2)}
      {bar(3, 87, 1441, 2)}
      {bar(3, 464, 1441, 2)}
      {bar(3, 546, 1441, 2)}
      {bar(3, 933, 1441, 2)}
      {bar(3, 4, 2, 931)}
      {bar(719, 4, 2, 931)}
      {bar(1442, 4, 2, 931)}
    </div>
  );
}
